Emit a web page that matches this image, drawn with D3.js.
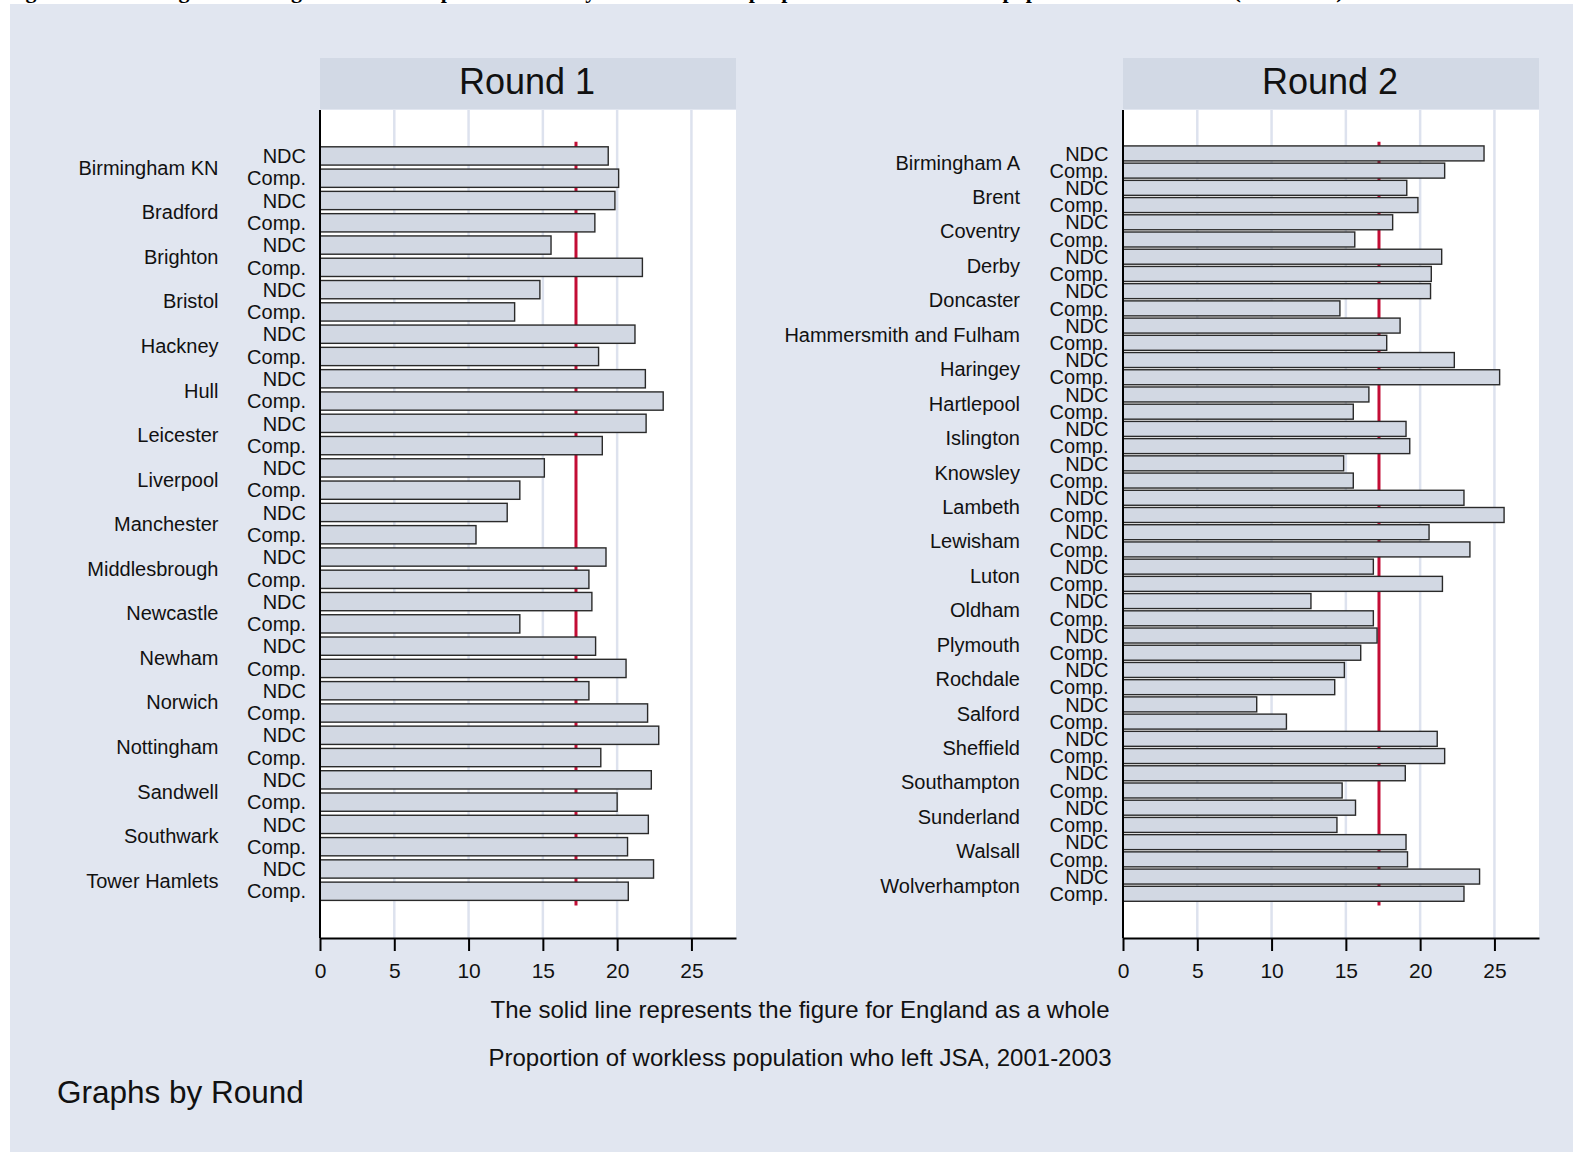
<!DOCTYPE html>
<html>
<head>
<meta charset="utf-8">
<script src="https://cdn.jsdelivr.net/npm/d3@7"></script>
<style>
  html, body { margin: 0; padding: 0; background: #ffffff; }
  svg { display: block; font-family: "Liberation Sans", Arial, Helvetica, sans-serif; }
</style>
</head>
<body>
<svg id="chart" width="1573" height="1152"></svg>
<script>
// ---------------- DATA ----------------
const seriesLabels = ["NDC", "Comp."];
const panelTitles = ["Round 1", "Round 2"];

const round1Cities = ["Birmingham KN", "Bradford", "Brighton", "Bristol", "Hackney", "Hull",
  "Leicester", "Liverpool", "Manchester", "Middlesbrough", "Newcastle", "Newham", "Norwich",
  "Nottingham", "Sandwell", "Southwark", "Tower Hamlets"];
const round1NDC  = [19.4, 19.85, 15.55, 14.8, 21.2, 21.9, 21.95, 15.1, 12.6, 19.25, 18.3, 18.55, 18.1, 22.8, 22.3, 22.1, 22.45];
const round1Comp = [20.1, 18.5, 21.7, 13.1, 18.75, 23.1, 19.0, 13.45, 10.5, 18.1, 13.45, 20.6, 22.05, 18.9, 20.0, 20.7, 20.75];

const round2Cities = ["Birmingham A", "Brent", "Coventry", "Derby", "Doncaster", "Hammersmith and Fulham",
  "Haringey", "Hartlepool", "Islington", "Knowsley", "Lambeth", "Lewisham", "Luton", "Oldham",
  "Plymouth", "Rochdale", "Salford", "Sheffield", "Southampton", "Sunderland", "Walsall", "Wolverhampton"];
const round2NDC  = [24.3, 19.1, 18.15, 21.45, 20.7, 18.65, 22.3, 16.55, 19.05, 14.85, 22.95, 20.6, 16.85, 12.65, 17.1, 14.9, 9.0, 21.15, 19.0, 15.65, 19.05, 24.0];
const round2Comp = [21.65, 19.85, 15.6, 20.75, 14.6, 17.75, 25.35, 15.5, 19.3, 15.5, 25.65, 23.35, 21.5, 16.85, 16.0, 14.25, 11.0, 21.65, 14.75, 14.4, 19.15, 22.95];

const xTicks = [0, 5, 10, 15, 20, 25];
const englandValue = 17.23;

const noteText = "The solid line represents the figure for England as a whole";
const axisTitle = "Proportion of workless population who left JSA, 2001-2003";
const byText = "Graphs by Round";
const topTitle = "Figure 4.8: Leaving JSA among NDC and comparator areas by round of NDC: proportion of the workless population who left JSA (2001-2003)";

// ---------------- LAYOUT ----------------
const svg = d3.select("#chart");
const C = {
  bg: "#e1e6f0", strip: "#d2d9e5", grid: "#dde2ee", bar: "#d2d8e3",
  barStroke: "#2a2a2a", red: "#c30d35", text: "#111111"
};
const plotTop = 110, plotBottom = 938, plotW = 416;
const bandTop = 144.8, bandBottom = 902.4;

svg.append("rect").attr("x", 10).attr("y", 4).attr("width", 1563).attr("height", 1148).attr("fill", C.bg);
svg.append("text").attr("x", 6).attr("y", -2.5)
  .attr("font-family", "'Liberation Serif', 'Times New Roman', serif")
  .attr("font-weight", "bold").attr("font-size", 22).attr("fill", "#000").text(topTitle);

function toRows(cities, ndc, comp) {
  const rows = [];
  cities.forEach((c, i) => {
    rows.push({ city: c, series: seriesLabels[0], value: ndc[i], key: c + "|0" });
    rows.push({ city: c, series: seriesLabels[1], value: comp[i], key: c + "|1" });
  });
  return rows;
}

const panels = [
  { title: panelTitles[0], x0: 320, labelX: 306, cityX: 218.5, pad: 0.18,
    cities: round1Cities, rows: toRows(round1Cities, round1NDC, round1Comp) },
  { title: panelTitles[1], x0: 1123, labelX: 1108.5, cityX: 1020, pad: 0.13,
    cities: round2Cities, rows: toRows(round2Cities, round2NDC, round2Comp) }
];

panels.forEach(p => {
  const g = svg.append("g");
  const x = d3.scaleLinear().domain([0, 28]).range([p.x0, p.x0 + plotW]);
  const y = d3.scaleBand().domain(p.rows.map(r => r.key))
    .range([bandTop, bandBottom]).paddingInner(p.pad).paddingOuter(p.pad / 2);

  // header strip
  g.append("rect").attr("x", p.x0).attr("y", 58).attr("width", plotW).attr("height", 51).attr("fill", C.strip);
  g.append("text").attr("x", p.x0 + plotW / 2 - 1).attr("y", 93.5).attr("text-anchor", "middle")
    .attr("font-size", 36).attr("fill", C.text).text(p.title);

  // plot region
  g.append("rect").attr("x", p.x0).attr("y", plotTop).attr("width", plotW).attr("height", plotBottom - plotTop).attr("fill", "#ffffff");

  // gridlines
  g.selectAll(".grid").data(xTicks.filter(t => t > 0)).join("line")
    .attr("x1", d => x(d)).attr("x2", d => x(d)).attr("y1", plotTop).attr("y2", plotBottom)
    .attr("stroke", C.grid).attr("stroke-width", 2.5);

  // England line
  g.append("line").attr("x1", x(englandValue)).attr("x2", x(englandValue))
    .attr("y1", bandTop - 3).attr("y2", bandBottom + 3)
    .attr("stroke", C.red).attr("stroke-width", 3);

  // bars
  g.selectAll(".bar").data(p.rows).join("rect")
    .attr("x", x(0)).attr("y", d => y(d.key))
    .attr("width", d => x(d.value) - x(0)).attr("height", y.bandwidth())
    .attr("fill", C.bar).attr("stroke", C.barStroke).attr("stroke-width", 1.4);

  // series labels
  g.selectAll(".slab").data(p.rows).join("text")
    .attr("x", p.labelX).attr("y", d => y(d.key) + y.bandwidth() / 2).attr("dy", "0.36em")
    .attr("text-anchor", "end").attr("font-size", 20).attr("fill", C.text).text(d => d.series);

  // city labels
  g.selectAll(".clab").data(p.cities).join("text")
    .attr("x", p.cityX)
    .attr("y", c => (y(c + "|0") + y(c + "|1") + y.bandwidth()) / 2).attr("dy", "0.38em")
    .attr("text-anchor", "end").attr("font-size", 20).attr("fill", C.text).text(c => c);

  // axes
  g.append("line").attr("x1", p.x0).attr("x2", p.x0).attr("y1", plotTop).attr("y2", plotBottom)
    .attr("stroke", "#000").attr("stroke-width", 2);
  const ax = g.append("g").attr("transform", `translate(0,${plotBottom})`)
    .call(d3.axisBottom(x).tickValues(xTicks).tickFormat(d3.format("d")).tickSize(13).tickSizeOuter(0).tickPadding(12));
  ax.select(".domain").attr("stroke", "#000").attr("stroke-width", 2);
  ax.selectAll(".tick line").attr("stroke", "#000").attr("stroke-width", 2);
  ax.selectAll(".tick text").attr("font-size", 21).attr("fill", C.text)
    .attr("font-family", "'Liberation Sans', Arial, Helvetica, sans-serif");
});

// notes
svg.append("text").attr("x", 800).attr("y", 1018).attr("text-anchor", "middle")
  .attr("font-size", 24).attr("fill", C.text).text(noteText);
svg.append("text").attr("x", 800).attr("y", 1066).attr("text-anchor", "middle")
  .attr("font-size", 24).attr("fill", C.text).text(axisTitle);
svg.append("text").attr("x", 57).attr("y", 1103)
  .attr("font-size", 31.5).attr("fill", C.text).text(byText);
</script>
</body>
</html>
